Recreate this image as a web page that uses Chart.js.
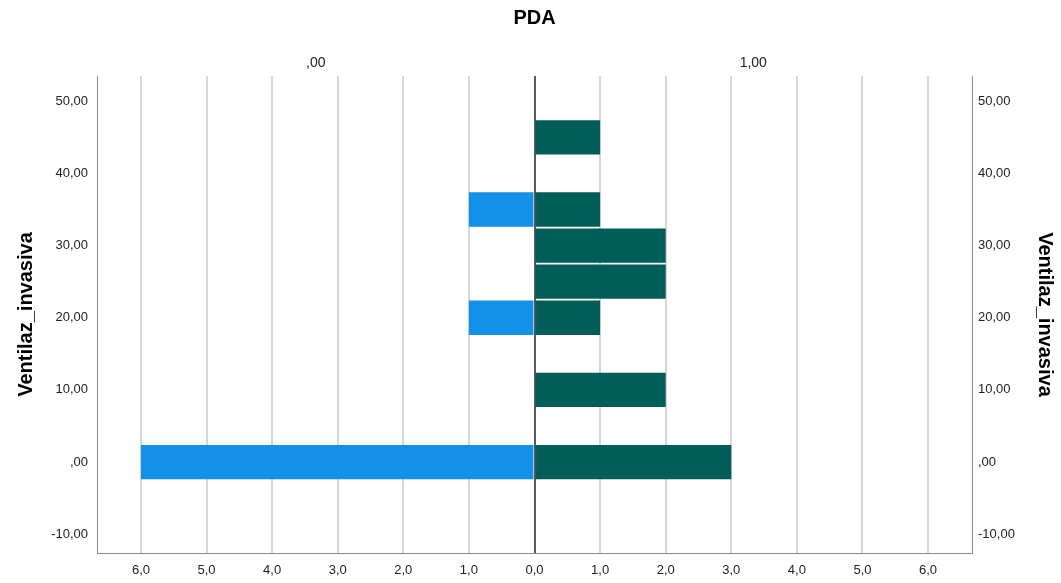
<!DOCTYPE html>
<html>
<head>
<meta charset="utf-8">
<script src="https://cdn.jsdelivr.net/npm/chart.js@4/dist/chart.umd.min.js"></script>
<style>
  body { margin: 0; background: #fff; }
  #wrap { width: 1061px; height: 583px; }
</style>
</head>
<body>
<div id="wrap"><canvas id="pyramid"></canvas></div>
<script>
// bin centres of Ventilaz_invasiva (bin width 5)
const bins = [0, 10, 20, 25, 30, 35, 45];
// counts per bin for each PDA group
const countsPda0 = [6, 0, 1, 0, 0, 1, 0];
const countsPda1 = [3, 2, 1, 2, 2, 1, 1];
const panelLabels = [',00', '1,00'];

const FONT = "'Liberation Sans', Arial, sans-serif";

function toPoints(counts, sign) {
  // zero counts are left out so no empty bar is drawn
  return bins.map((b, i) => counts[i] ? { x: sign * counts[i], y: b } : null).filter(p => p);
}

function fmtY(v) {
  let s = v.toFixed(2).replace('.', ',');
  if (s.startsWith('0,')) s = s.slice(1);
  return s;
}

const yAxisBase = {
  type: 'linear',
  min: -12.6,
  max: 53.5,
  offset: false,
  grid: { display: false, drawTicks: false },
  border: { display: true, color: '#8c8c8c', width: 1 },
  ticks: {
    stepSize: 10,
    includeBounds: false,
    padding: 9,
    color: '#222',
    font: { family: FONT, size: 13 },
    callback: v => fmtY(v)
  },
  title: {
    display: true,
    text: 'Ventilaz_invasiva',
    color: '#000',
    padding: { top: 14, bottom: 0 },
    font: { family: FONT, size: 20, weight: 'bold' }
  }
};

new Chart(document.getElementById('pyramid').getContext('2d'), {
  type: 'bar',
  data: {
    datasets: [
      {
        label: ',00',
        data: toPoints(countsPda0, -1),
        backgroundColor: '#1391e6',
        borderWidth: 0
      },
      {
        label: '1,00',
        data: toPoints(countsPda1, 1),
        backgroundColor: '#005d5a',
        borderWidth: 0
      }
    ]
  },
  options: {
    indexAxis: 'y',
    responsive: true,
    maintainAspectRatio: false,
    animation: false,
    grouped: false,
    categoryPercentage: 1,
    barPercentage: 0.95,
    layout: { padding: 0 },
    plugins: {
      legend: { display: false },
      tooltip: { enabled: false }
    },
    scales: {
      x: {
        type: 'linear',
        position: 'bottom',
        min: -6.67,
        max: 6.67,
        afterFit: s => { s.height = 30; },
        grid: {
          drawTicks: false,
          lineWidth: 2,
          color: ctx => ctx.tick && ctx.tick.value === 0 ? '#5a5a5a' : '#d6d6d6'
        },
        border: { display: true, color: '#8c8c8c', width: 1 },
        ticks: {
          stepSize: 1,
          includeBounds: false,
          padding: 10,
          color: '#222',
          font: { family: FONT, size: 13 },
          callback: v => Math.abs(v).toFixed(1).replace('.', ',')
        }
      },
      xTop: {
        type: 'linear',
        position: 'top',
        min: -1,
        max: 1,
        afterFit: s => { s.height = 76; },
        grid: { display: false, drawTicks: false },
        border: { display: false },
        afterBuildTicks: scale => { scale.ticks = [{ value: -0.5 }, { value: 0.5 }]; },
        ticks: {
          padding: 4,
          color: '#222',
          font: { family: FONT, size: 14 },
          callback: (v, i) => panelLabels[i]
        },
        title: {
          display: true,
          text: 'PDA',
          color: '#000',
          padding: { top: 6, bottom: 0 },
          font: { family: FONT, size: 20, weight: 'bold' }
        }
      },
      y: Object.assign({}, yAxisBase, {
        position: 'left',
        afterFit: s => { s.width = 97; }
      }),
      y2: Object.assign({}, yAxisBase, {
        position: 'right',
        afterFit: s => { s.width = 89; },
        ticks: Object.assign({}, yAxisBase.ticks, { padding: 6 }),
        title: Object.assign({}, yAxisBase.title, { padding: { top: 4, bottom: 0 } })
      })
    }
  }
});
</script>
</body>
</html>
